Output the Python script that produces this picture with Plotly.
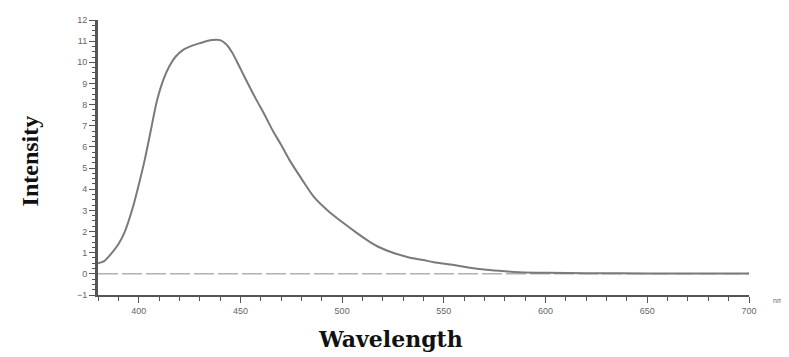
import plotly.graph_objects as go

wavelength = [380, 383, 386, 390, 393, 397, 400, 403, 406, 409, 412, 415, 418, 422, 426, 430,
              436, 440, 443, 446, 450, 455, 458, 462, 466, 470, 474, 480, 486, 494, 500, 507,
              513, 518, 525, 532, 540, 545, 555, 562, 571, 580, 587, 600, 620, 650, 680, 700]
intensity = [0.5, 0.6, 0.9, 1.4, 1.95, 3.1, 4.2, 5.4, 6.8, 8.2, 9.15, 9.8, 10.25, 10.6, 10.78, 10.9,
             11.05, 11.05, 10.85, 10.45, 9.7, 8.75, 8.2, 7.5, 6.75, 6.1, 5.4, 4.5, 3.65, 2.9, 2.45, 1.95,
             1.55, 1.27, 1.0, 0.8, 0.65, 0.55, 0.42, 0.3, 0.19, 0.12, 0.08, 0.05, 0.03, 0.02, 0.02, 0.02]
baseline_x = [380, 700]
baseline_y = [0, 0]
x_ticks = [400, 450, 500, 550, 600, 650, 700]
y_ticks = list(range(-1, 13))

# the page body has an 8px margin; lay out so that the plot lands where the reference has it
OFF = 8
W, H = 789 - OFF, 357 - OFF
l, r, t, b = 98 - OFF, 40, 15 - OFF, 62
pw, ph = W - l - r, H - t - b

def px2paper(px, py):
    return (px - OFF - l) / pw, 1 - (py - OFF - t) / ph

fig = go.Figure()
fig.add_trace(go.Scatter(x=baseline_x, y=baseline_y, mode="lines",
                         line=dict(color="#b0b0b0", width=1.5, dash="20px,4px"),
                         hoverinfo="skip", showlegend=False))
fig.add_trace(go.Scatter(x=wavelength, y=intensity, mode="lines",
                         line=dict(color="#7a7a7a", width=2, shape="spline", smoothing=0.8),
                         showlegend=False))

ann = []
for text, (px, py), fam, size, angle in [
    ("<b>Wavelength</b>", (390, 340), "DejaVu Serif", 22, 0),
    ("<b>Intensity</b>", (30, 159), "Liberation Serif, Times New Roman", 24, -90),
    ("nm", (778, 301), "Liberation Sans, Arial", 7, 0),
]:
    x, y = px2paper(px, py)
    ann.append(dict(text=text, x=x, y=y, xref="paper", yref="paper", showarrow=False,
                    xanchor="center", yanchor="middle", textangle=angle,
                    font=dict(family=fam, size=size, color="#111111" if size > 10 else "#666666")))

fig.update_layout(
    width=W, height=H,
    margin=dict(l=l, r=r, t=t, b=b),
    paper_bgcolor="white", plot_bgcolor="white",
    font=dict(family="Liberation Sans, Arial", size=9, color="#666666"),
    xaxis=dict(range=[380, 700], tickvals=x_ticks, showgrid=False, zeroline=False,
               showline=True, linecolor="#555555", linewidth=1.5,
               ticks="outside", ticklen=6, tickwidth=1.2, tickcolor="#555555",
               minor=dict(dtick=10, tick0=380, ticks="outside", ticklen=4, tickcolor="#555555", tickwidth=1),
               tickfont=dict(size=9, color="#666666")),
    yaxis=dict(range=[-1, 12], tickvals=y_ticks, showgrid=False, zeroline=False,
               showline=True, linecolor="#555555", linewidth=3,
               ticks="outside", ticklen=6, tickwidth=1.2, tickcolor="#555555",
               minor=dict(dtick=0.25, ticks="outside", ticklen=3, tickcolor="#555555", tickwidth=1),
               tickfont=dict(size=9, color="#666666")),
    annotations=ann,
)

fig.write_html("out.html")
